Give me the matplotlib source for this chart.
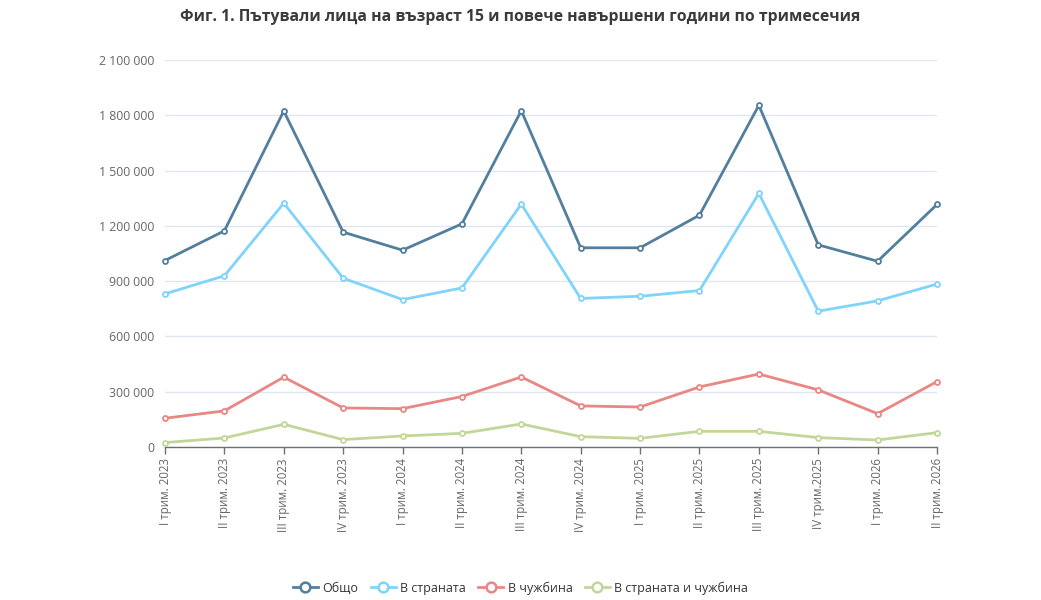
import matplotlib
matplotlib.use("Agg")
import matplotlib.pyplot as plt
from matplotlib.ticker import FuncFormatter
from matplotlib.lines import Line2D

categories = ["I трим. 2023", "II трим. 2023", "III трим. 2023", "IV трим. 2023",
              "I трим. 2024", "II трим. 2024", "III трим. 2024", "IV трим. 2024",
              "I трим. 2025", "II трим. 2025", "III трим. 2025", "IV трим.2025",
              "I трим. 2026", "II трим. 2026"]

total = [1012000, 1173000, 1823000, 1166000, 1068000, 1211000, 1825000, 1081000,
         1081000, 1258000, 1854000, 1097000, 1008000, 1316000]
domestic = [831000, 929000, 1323000, 916000, 800000, 863000, 1318000, 806000,
            818000, 849000, 1376000, 737000, 793000, 884000]
abroad = [156000, 196000, 379000, 212000, 208000, 274000, 380000, 223000,
          217000, 326000, 396000, 310000, 181000, 355000]
both = [24000, 49000, 123000, 40000, 60000, 74000, 125000, 56000,
        47000, 85000, 85000, 51000, 38000, 78000]

series_names = ["Общо", "В страната", "В чужбина", "В страната и чужбина"]
colors = ["#527f9e", "#80d3fb", "#e88784", "#c3d699"]

y_ticks = [0, 300000, 600000, 900000, 1200000, 1500000, 1800000, 2100000]

plt.rcParams['font.family'] = ['Open Sans', 'DejaVu Sans']

fig = plt.figure(figsize=(10.41, 6.0), dpi=100)
ax = fig.add_axes([165/1041, 1 - 447/600, (937-165)/1041, (447-60)/600])

x = list(range(len(categories)))
for vals, c in zip([total, domestic, abroad, both], colors):
    ax.plot(x, vals, color=c, lw=2.0, marker='o', markersize=3.6,
            markerfacecolor='white', markeredgecolor=c, markeredgewidth=1.3,
            zorder=3, clip_on=False)

ax.set_xlim(0, len(categories) - 1)
ax.set_ylim(0, 2100000)
ax.set_yticks(y_ticks)
ax.yaxis.set_major_formatter(FuncFormatter(lambda v, p: f"{int(v):,}".replace(",", " ")))
ax.set_xticks(x)
ax.set_xticklabels(categories, rotation=90, fontsize=8.3, color='#666666')
ax.tick_params(axis='y', length=0, labelsize=8.8, labelcolor='#666666', pad=8)
ax.tick_params(axis='x', length=5, color='#6e7079', width=1, pad=3)
ax.grid(axis='y', color='#e0e6f1', lw=1)
ax.set_axisbelow(True)
for s in ['top', 'right', 'left']:
    ax.spines[s].set_visible(False)
ax.spines['bottom'].set_color('#6e7079')
ax.spines['bottom'].set_linewidth(1)
ax.spines['bottom'].set_zorder(2)

fig.text(0.5, 1 - 17/600, "Фиг. 1. Пътували лица на възраст 15 и повече навършени години по тримесечия",
         ha='center', va='center', fontsize=11.3, fontweight='bold', color='#3a3a3a')

handles = [Line2D([0], [0], color=c, lw=2, marker='o', markersize=7,
                  markerfacecolor='white', markeredgecolor=c, markeredgewidth=1.8)
           for c in colors]
fig.legend(handles, series_names, loc='center', bbox_to_anchor=(0.5, 1 - 588/600),
           ncol=4, frameon=False, fontsize=9, handlelength=2.0, handletextpad=0.35,
           columnspacing=1.0, labelcolor='#333333')

fig.savefig("out.png", dpi=100)
